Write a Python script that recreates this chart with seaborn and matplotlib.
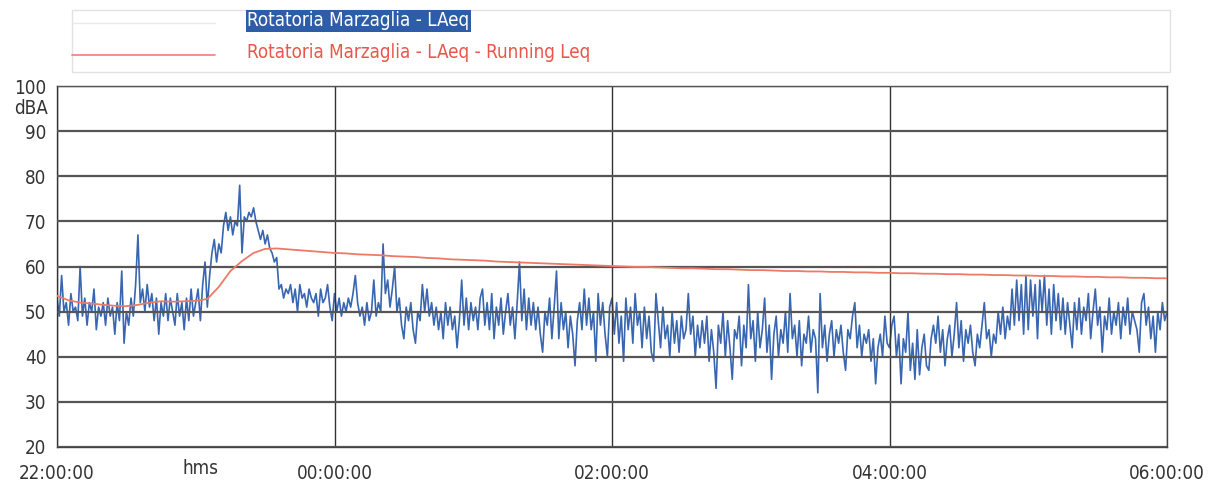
import matplotlib.pyplot as plt
from matplotlib.lines import Line2D
from matplotlib.patches import Rectangle
import seaborn as sns

# LAeq, one reading per minute starting at 22:00
laeq = [
    53, 49, 58, 50, 52, 47, 54, 50, 51, 48, 60, 49, 53, 47, 52, 50, 55, 46, 51, 49,
    52, 47, 53, 49, 51, 45, 52, 48, 59, 43, 50, 47, 53, 49, 56, 67, 52, 55, 50, 56,
    51, 54, 48, 53, 45, 52, 49, 54, 48, 53, 50, 47, 54, 49, 52, 46, 53, 48, 55, 49,
    52, 55, 48, 56, 61, 51, 58, 63, 66, 61, 65, 63, 69, 72, 68, 71, 67, 70, 69, 78,
    63, 71, 70, 72, 71, 73, 70, 68, 66, 68, 65, 67, 64, 63, 61, 62, 55, 56, 53, 55,
    54, 56, 52, 55, 50, 56, 53, 54, 51, 55, 53, 52, 54, 49, 55, 52, 53, 56, 51, 48,
    54, 50, 53, 49, 52, 50, 53, 51, 54, 58, 52, 49, 51, 47, 52, 48, 50, 57, 49, 52,
    50, 65, 54, 57, 51, 55, 60, 50, 53, 47, 44, 51, 48, 52, 46, 43, 50, 48, 56, 50,
    55, 49, 52, 47, 51, 46, 50, 44, 52, 47, 51, 46, 49, 42, 48, 57, 47, 53, 46, 52,
    48, 51, 46, 53, 55, 47, 52, 46, 54, 44, 51, 47, 53, 45, 50, 54, 47, 51, 44, 52,
    61, 48, 55, 46, 53, 47, 52, 46, 51, 45, 41, 50, 47, 53, 44, 51, 59, 44, 52, 46,
    50, 42, 49, 45, 38, 48, 52, 46, 55, 47, 53, 46, 50, 39, 54, 47, 52, 45, 40, 51,
    53, 45, 52, 43, 49, 39, 53, 46, 51, 43, 54, 47, 50, 42, 51, 44, 49, 41, 39, 54,
    48, 42, 51, 44, 47, 40, 50, 43, 48, 41, 49, 44, 46, 54, 45, 49, 40, 47, 42, 48,
    43, 49, 39, 46, 41, 33, 47, 43, 50, 40, 48, 42, 35, 46, 44, 49, 38, 47, 42, 56,
    44, 48, 39, 50, 42, 46, 53, 41, 47, 35, 45, 49, 40, 46, 43, 50, 41, 54, 44, 47,
    40, 48, 38, 45, 43, 49, 41, 46, 44, 32, 54, 42, 47, 39, 45, 48, 40, 46, 43, 47,
    41, 37, 46, 44, 49, 52, 42, 47, 40, 45, 43, 46, 39, 44, 34, 42, 45, 40, 49, 43,
    42, 47, 49, 40, 45, 34, 44, 41, 50, 37, 43, 35, 46, 36, 42, 45, 38, 37, 44, 47,
    43, 49, 41, 46, 38, 44, 47, 40, 45, 52, 42, 48, 39, 46, 43, 47, 41, 38, 45, 42,
    47, 52, 44, 46, 40, 45, 43, 50, 45, 51, 44, 49, 46, 55, 47, 57, 48, 56, 45, 58,
    46, 57, 49, 56, 44, 57, 50, 58, 47, 55, 45, 56, 48, 54, 46, 53, 45, 52, 47, 42,
    52, 46, 53, 45, 51, 48, 54, 44, 50, 55, 47, 51, 41, 49, 46, 53, 45, 50, 47, 52,
    44, 51, 47, 53, 45, 50, 48, 46, 41, 52, 54, 47, 51, 44, 49, 41, 50, 46, 52, 48,
    50,
]
minutes = list(range(len(laeq)))

# running Leq, every 5 minutes from 22:00
running_leq = [
    53.5, 52.5, 52.0, 51.8, 51.5, 51.3, 51.2, 51.5, 52.0, 52.3, 52.2, 52.3, 52.4,
    52.8, 55.5, 59.0, 61.2, 63.0, 63.9, 64.0, 63.8, 63.6, 63.4, 63.2, 63.0,
    62.9, 62.7, 62.6, 62.5, 62.3, 62.2, 62.1, 61.9, 61.8, 61.6, 61.5, 61.4,
    61.3, 61.1, 61.0, 60.9, 60.8, 60.7, 60.6, 60.5, 60.4, 60.3, 60.2, 60.1,
    60.0, 59.9, 59.9, 59.8, 59.7, 59.6, 59.6, 59.5, 59.4, 59.4, 59.3, 59.2,
    59.2, 59.1, 59.0, 59.0, 58.9, 58.9, 58.8, 58.8, 58.7, 58.7, 58.6, 58.6,
    58.5, 58.5, 58.4, 58.4, 58.3, 58.3, 58.2, 58.2, 58.1, 58.1, 58.0, 58.0,
    57.9, 57.9, 57.8, 57.8, 57.7, 57.7, 57.6, 57.6, 57.5, 57.5, 57.4, 57.4,
]
running_minutes = list(range(0, 481, 5))

tick_minutes = [0, 120, 240, 360, 480]
tick_labels = ['22:00:00', '00:00:00', '02:00:00', '04:00:00', '06:00:00']
y_ticks = [20, 30, 40, 50, 60, 70, 80, 90, 100]

sns.set_style('white')
plt.rcParams['font.family'] = ['DejaVu Sans']
plt.rcParams['font.stretch'] = 'condensed'

W, H = 1213, 488
fig = plt.figure(figsize=(W / 100, H / 100), dpi=100)
ax = fig.add_axes([57 / W, 41 / H, 1110 / W, 361 / H])

sns.lineplot(x=minutes, y=laeq, color='#3866B0', lw=1.2, ax=ax, zorder=2)
sns.lineplot(x=running_minutes, y=running_leq, color='#EE7A66', lw=1.3, ax=ax, zorder=4)

ax.set_xlim(0, 480)
ax.set_ylim(20, 100)
ax.set_xticks(tick_minutes, tick_labels)
ax.set_yticks(y_ticks, [str(v) for v in y_ticks])
ax.set_axisbelow(False)
ax.grid(axis='y', color='#555555', lw=1.6)
ax.grid(axis='x', color='#333333', lw=1.0)
for s in ax.spines.values():
    s.set_color('#444444')
    s.set_linewidth(1.0)
ax.tick_params(axis='both', labelsize=13.5, labelcolor='#333333', color='#aaaaaa', length=4, width=0.8)
ax.tick_params(axis='x', pad=8)

# units
fig.text(48 / W, (H - 108) / H, 'dBA', ha='right', va='center', fontsize=13.5, color='#333333')
fig.text(200 / W, (H - 469) / H, 'hms', ha='center', va='center', fontsize=13.5, color='#333333')

# legend box drawn by hand (first label is highlighted)
fig.add_artist(Rectangle((72 / W, (H - 72) / H), 1098 / W, 62 / H, transform=fig.transFigure,
                         fill=False, edgecolor='#e2e2e2', lw=1))
fig.add_artist(Line2D([72 / W, 215 / W], [(H - 23) / H] * 2, color='#e8e8e8', lw=1))
fig.add_artist(Line2D([72 / W, 215 / W], [(H - 55) / H] * 2, color='#EE8070', lw=1.2))
fig.text(247 / W, (H - 21) / H, 'Rotatoria Marzaglia - LAeq', color='white', fontsize=13.5,
         va='center', bbox=dict(boxstyle='square,pad=0.08', fc='#2D5DA8', ec='none'))
fig.text(247 / W, (H - 53) / H, 'Rotatoria Marzaglia - LAeq - Running Leq', color='#E8574A',
         fontsize=13.5, va='center')

fig.savefig('out.png', dpi=100)
plt.close(fig)
